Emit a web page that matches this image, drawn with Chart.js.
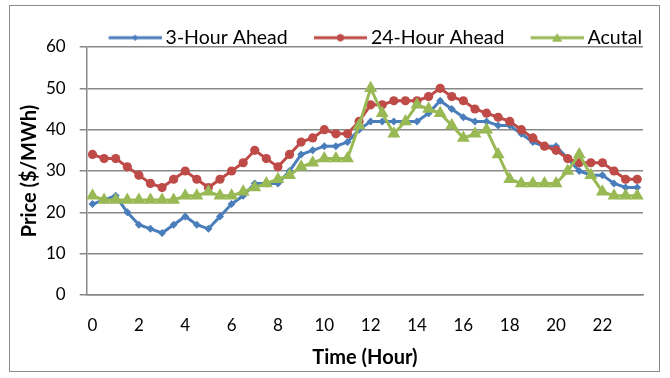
<!DOCTYPE html>
<html>
<head>
<meta charset="utf-8">
<script src="https://cdn.jsdelivr.net/npm/chart.js@4.4.1/dist/chart.umd.min.js"></script>
<style>
  html, body { margin: 0; padding: 0; background: #ffffff; }
  #wrap { width: 670px; height: 378px; position: relative; }
</style>
</head>
<body>
<div id="wrap"><canvas id="chart" width="670" height="378"></canvas></div>
<script>
// Half-hourly time axis, labelled every two hours
const hours = [
  0, 0.5, 1, 1.5, 2, 2.5, 3, 3.5, 4, 4.5, 5, 5.5,
  6, 6.5, 7, 7.5, 8, 8.5, 9, 9.5, 10, 10.5, 11, 11.5,
  12, 12.5, 13, 13.5, 14, 14.5, 15, 15.5, 16, 16.5, 17, 17.5,
  18, 18.5, 19, 19.5, 20, 20.5, 21, 21.5, 22, 22.5, 23, 23.5
];
const shownHourLabels = [0, 2, 4, 6, 8, 10, 12, 14, 16, 18, 20, 22];

// Price ($/MWh)
const threeHourAhead = [
  22, 23, 24, 20, 17, 16, 15, 17, 19, 17, 16, 19,
  22, 24, 27, 27, 27, 30, 34, 35, 36, 36, 37, 40,
  42, 42, 42, 42, 42, 44, 47, 45, 43, 42, 42, 41,
  41, 39, 37, 36, 36, 33, 30, 29, 29, 27, 26, 26
];
const twentyFourHourAhead = [
  34, 33, 33, 31, 29, 27, 26, 28, 30, 28, 26, 28,
  30, 32, 35, 33, 31, 34, 37, 38, 40, 39, 39, 42,
  46, 46, 47, 47, 47, 48, 50, 48, 47, 45, 44, 43,
  42, 40, 38, 36, 35, 33, 32, 32, 32, 30, 28, 28
];
const actual = [
  24, 23, 23, 23, 23, 23, 23, 23, 24, 24, 25, 24,
  24, 25, 26, 27, 28, 29, 31, 32, 33, 33, 33, 41,
  50, 44, 39, 42, 46, 45, 44, 41, 38, 39, 40, 34,
  28, 27, 27, 27, 27, 30, 34, 29, 25, 24, 24, 24
];
const yTicks = [0, 10, 20, 30, 40, 50, 60];

const seriesNames = ['3-Hour Ahead', '24-Hour Ahead', 'Acutal'];
const seriesColors = ['#4a7ebb', '#be4b48', '#98b954'];
const seriesMarkers = ['rectRot', 'circle', 'triangle'];
const markerRadius = [4, 4.6, 7.5];

const FONT = 'Lato, "Liberation Sans", sans-serif';
const GRID = '#878787';

// Legend key: line segment with the series marker in its middle,
// placed off-centre so the key sits close to its text
function legendKey(color, marker, radius) {
  const c = document.createElement('canvas');
  c.width = 84; c.height = 18;
  const g = c.getContext('2d');
  g.strokeStyle = color;
  g.lineWidth = 3;
  g.beginPath(); g.moveTo(31, 9); g.lineTo(84, 9); g.stroke();
  g.fillStyle = color;
  Chart.helpers.drawPoint(g, {pointStyle: marker, radius: radius, rotation: 0, borderWidth: 0}, 57.5, marker === 'triangle' ? 10 : 9);
  g.fill();
  return c;
}

// White page with the thin grey chart frame
const framePlugin = {
  id: 'frame',
  beforeDraw(chart) {
    const ctx = chart.ctx;
    ctx.save();
    ctx.fillStyle = '#ffffff';
    ctx.fillRect(0, 0, chart.width, chart.height);
    ctx.strokeStyle = '#8a8a8a';
    ctx.lineWidth = 1;
    ctx.strokeRect(9.5, 5.5, 650, 366);
    ctx.restore();
  }
};

// Keep the legend band shallow so the plot starts just under it
const legendBandPlugin = {
  id: 'legendBand',
  beforeLayout(chart) {
    const lg = chart.legend;
    if (lg && !lg._shallow) {
      const fit = lg.fit;
      lg.fit = function () { fit.call(this); this.height -= 10.5; };
      lg._shallow = true;
    }
  }
};

const datasets = [threeHourAhead, twentyFourHourAhead, actual].map((values, i) => ({
  label: seriesNames[i],
  data: values,
  borderColor: seriesColors[i],
  backgroundColor: seriesColors[i],
  borderWidth: 3,
  pointStyle: seriesMarkers[i],
  pointRadius: markerRadius[i],
  pointHoverRadius: markerRadius[i],
  pointBorderWidth: 0,
  tension: 0,
  fill: false,
  order: 3 - i
}));

new Chart(document.getElementById('chart'), {
  type: 'line',
  data: { labels: hours, datasets: datasets },
  plugins: [framePlugin, legendBandPlugin],
  options: {
    responsive: false,
    animation: false,
    events: [],
    layout: { padding: { left: 18, right: 27, top: 27, bottom: 8 } },
    plugins: {
      tooltip: { enabled: false },
      legend: {
        position: 'top',
        align: 'end',
        labels: {
          usePointStyle: true,
          pointStyleWidth: 72.5,
          padding: 1,
          color: '#000000',
          font: { family: FONT, size: 19.5 },
          sort: (a, b) => a.datasetIndex - b.datasetIndex,
          generateLabels(chart) {
            const items = Chart.defaults.plugins.legend.labels.generateLabels(chart);
            items.forEach(it => {
              const i = it.datasetIndex;
              it.pointStyle = legendKey(seriesColors[i], seriesMarkers[i], markerRadius[i] * 0.75);
            });
            return items;
          }
        }
      }
    },
    scales: {
      x: {
        type: 'category',
        offset: true,
        grid: { display: false, drawTicks: false },
        border: { display: true, color: GRID, width: 1.5 },
        ticks: {
          autoSkip: false,
          maxRotation: 0,
          padding: 20,
          color: '#000000',
          font: { family: FONT, size: 17 },
          callback(value, index) {
            const h = hours[index];
            return shownHourLabels.includes(h) ? String(h) : '';
          }
        },
        title: {
          display: true,
          text: 'Time (Hour)',
          color: '#000000',
          font: { family: FONT, size: 20, weight: 'bold', lineHeight: 1 },
          padding: { top: -7.4, bottom: 2 }
        }
      },
      y: {
        min: 0,
        max: 60,
        afterBuildTicks(axis) { axis.ticks = yTicks.map(v => ({ value: v })); },
        grid: { color: GRID, lineWidth: 1.5, tickLength: 7 },
        border: { display: true, color: GRID, width: 1.5 },
        ticks: {
          padding: 14,
          color: '#000000',
          font: { family: FONT, size: 17 }
        },
        title: {
          display: true,
          text: 'Price ($/MWh)',
          color: '#000000',
          font: { family: FONT, size: 20, weight: 'bold', lineHeight: 1 },
          padding: { top: 2, bottom: -8 }
        }
      }
    }
  }
});
</script>
</body>
</html>
